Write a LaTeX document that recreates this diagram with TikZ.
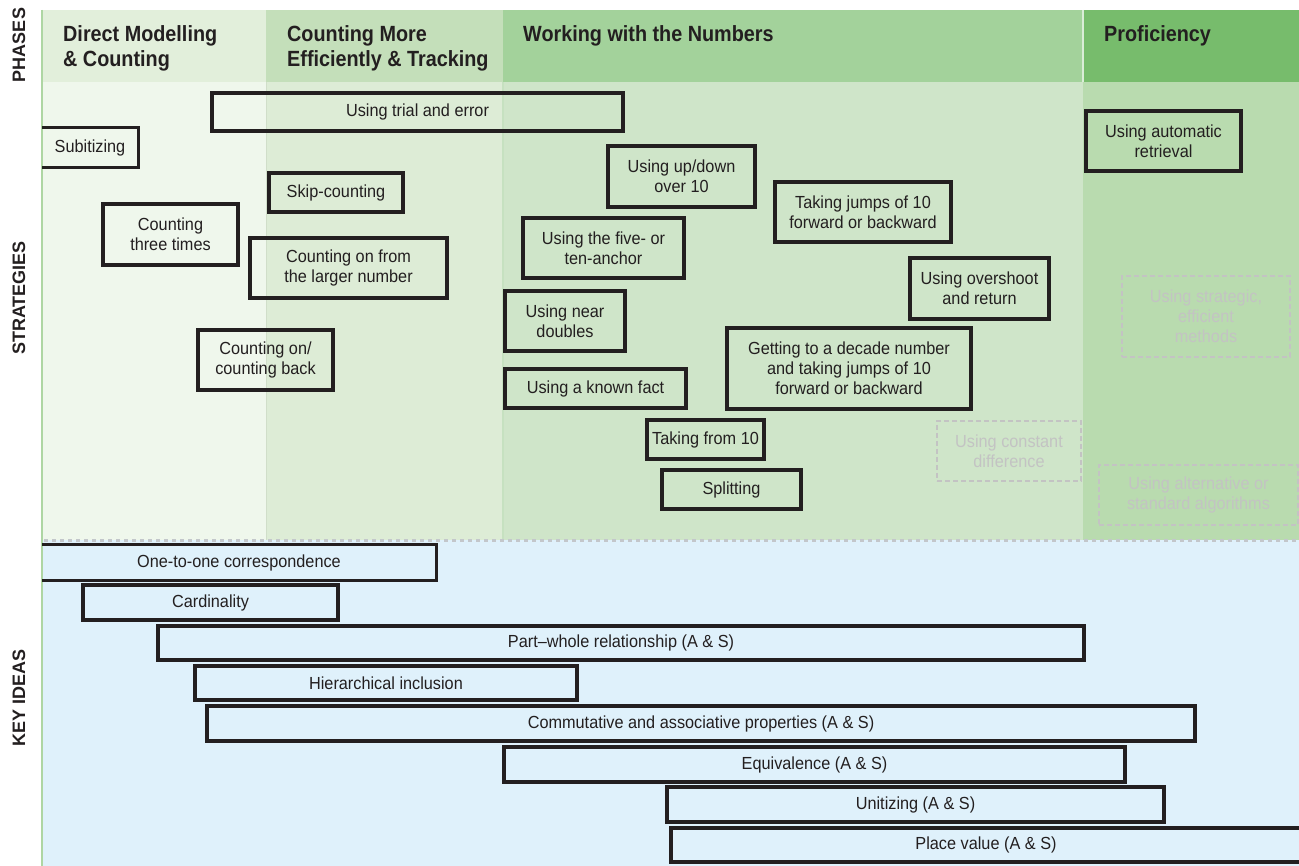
\documentclass[tikz,border=0pt]{standalone}
\usepackage{fontspec}
\setmainfont{Liberation Sans}[FakeStretch=0.93]
\newfontfamily\condfont{Liberation Sans}[FakeStretch=0.90]
\newfontfamily\labfont{Liberation Sans}
\definecolor{txt}{HTML}{231F20}
\definecolor{boxc}{HTML}{231F20}
\definecolor{grayc}{HTML}{C3C3C3}
\definecolor{hA}{HTML}{E2EFDB}
\definecolor{hB}{HTML}{C4DFBA}
\definecolor{hC}{HTML}{A3D29B}
\definecolor{hD}{HTML}{77BC6C}
\definecolor{sA}{HTML}{EFF7EC}
\definecolor{sB}{HTML}{DDECD6}
\definecolor{sC}{HTML}{CFE5C9}
\definecolor{sD}{HTML}{B9DBAF}
\definecolor{kb}{HTML}{DFF1FB}
\definecolor{gline}{HTML}{AED6A3}
\definecolor{dotc}{HTML}{C3C7CB}
\begin{document}
\begin{tikzpicture}[x=1pt,y=-1pt,
  sbox/.style={draw=boxc, line width=3.2pt, align=center, inner sep=0pt, text=txt,
    font=\fontsize{17.5}{20}\selectfont},
  obox/.style={draw=none, align=center, inner sep=0pt, text=txt,
    font=\fontsize{17.5}{20}\selectfont},
  gbox/.style={draw=grayc, line width=2.6pt, dash pattern=on 5pt off 3pt, align=center,
    inner sep=0pt, text=grayc, font=\fontsize{17.5}{20}\selectfont},
  hdr/.style={anchor=north west, align=left, inner sep=0pt, text=txt,
    font=\condfont\bfseries\fontsize{22}{25}\selectfont},
  side/.style={rotate=90, inner sep=0pt, text=txt,
    font=\labfont\bfseries\fontsize{18}{20}\selectfont},
  edge3/.style={draw=boxc, line width=3.2pt}]
\useasboundingbox (0,0) rectangle (1299,866);
\fill[white] (0,0) rectangle (1299,866);
% header band
\fill[hA] (42,10) rectangle (266,82);
\fill[hB] (266,10) rectangle (503,82);
\fill[hC] (503,10) rectangle (1083,82);
\fill[hD] (1083,10) rectangle (1299,82);
\draw[white!60!hC, line width=1.5pt] (1083,10) -- (1083,82);
% strategies band
\fill[sA] (42,82) rectangle (266,540);
\fill[sB] (266,82) rectangle (503,540);
\fill[sC] (503,82) rectangle (1083,540);
\fill[sD] (1083,82) rectangle (1299,540);
\draw[sB!85!black!40!sB, line width=1pt] (266,82) -- (266,540);
\draw[sC!80!hC, line width=1.5pt] (503,82) -- (503,540);
% key ideas band
\fill[kb] (42,540) rectangle (1299,866);
\draw[dotc, line width=3pt, dash pattern=on 4pt off 4pt] (44,540) -- (1299,540);
\draw[gline, line width=2.5pt] (42,10) -- (42,866);
% side labels
\node[side] (lphases) at (19,45) {PHASES};
\node[side] (lstrat) at (19,298) {STRATEGIES};
\node[side] (lkey) at (19,698) {KEY IDEAS};
% phase headers
\node[hdr] (p1) at (63,25) {Direct Modelling\\\& Counting};
\node[hdr] (p2) at (287,25) {Counting More\\Efficiently \& Tracking};
\node[hdr] (p3) at (523,25) {Working with the Numbers};
\node[hdr] (p4) at (1104,25) {Proficiency};
% strategies
\node[sbox, minimum width=411, minimum height=38] (trial) at (417.5,112) {Using trial and error};
\node[obox, minimum width=96, minimum height=39] (subit) at (90,147.5) {Subitizing};
\draw[edge3] (subit.north west) -- (subit.north east) -- (subit.south east) -- (subit.south west);
\node[sbox, minimum width=134, minimum height=39] (skip) at (336,192.5) {Skip-counting};
\node[sbox, minimum width=135, minimum height=61] (three) at (170.5,234.5) {Counting\\three times};
\node[sbox, minimum width=197, minimum height=60] (larger) at (348.5,268) {Counting on from\\the larger number};
\node[sbox, minimum width=135, minimum height=60] (onback) at (265.5,360) {Counting on/\\counting back};
\node[sbox, minimum width=147, minimum height=61] (updown) at (681.5,176.5) {Using up/down\\over 10};
\node[sbox, minimum width=176, minimum height=60] (jumps) at (863,212) {Taking jumps of 10\\forward or backward};
\node[sbox, minimum width=161, minimum height=60] (anchor) at (603.5,248) {Using the five- or\\ten-anchor};
\node[sbox, minimum width=139, minimum height=61] (over) at (979.5,288.5) {Using overshoot\\and return};
\node[sbox, minimum width=120, minimum height=60] (near) at (565,321) {Using near\\doubles};
\node[sbox, minimum width=244, minimum height=81] (decade) at (849,368.5) {Getting to a decade number\\and taking jumps of 10\\forward or backward};
\node[sbox, minimum width=181, minimum height=39] (known) at (595.5,388.5) {Using a known fact};
\node[sbox, minimum width=117, minimum height=39] (take10) at (705.5,439.5) {Taking from 10};
\node[sbox, minimum width=139, minimum height=39] (split) at (731.5,489.5) {Splitting};
\node[gbox, minimum width=144, minimum height=60] (const) at (1009,451) {Using constant\\difference};
\node[sbox, minimum width=155, minimum height=60] (auto) at (1163.5,141) {Using automatic\\retrieval};
\node[gbox, minimum width=168, minimum height=81] (strat) at (1206,316.5) {Using strategic,\\efficient\\methods};
\node[gbox, minimum width=199, minimum height=60] (alt) at (1198.5,495) {Using alternative or\\standard algorithms};
% key ideas
\node[obox, minimum width=394, minimum height=35] (one) at (239,562.5) {One-to-one correspondence};
\draw[edge3] (one.north west) -- (one.north east) -- (one.south east) -- (one.south west);
\node[sbox, minimum width=255, minimum height=35] (card) at (210.5,602.5) {Cardinality};
\node[sbox, minimum width=926, minimum height=34] (part) at (621,643) {Part--whole relationship (A \& S)};
\node[sbox, minimum width=382, minimum height=34] (hier) at (386,683) {Hierarchical inclusion};
\node[sbox, minimum width=988, minimum height=35] (comm) at (701,723.5) {Commutative and associative properties (A \& S)};
\node[sbox, minimum width=621, minimum height=35] (equiv) at (814.5,764.5) {Equivalence (A \& S)};
\node[sbox, minimum width=497, minimum height=35] (unit) at (915.5,804.5) {Unitizing (A \& S)};
\node[sbox, minimum width=630, minimum height=34] (place) at (986,845) {Place value (A \& S)};
\end{tikzpicture}
\end{document}
